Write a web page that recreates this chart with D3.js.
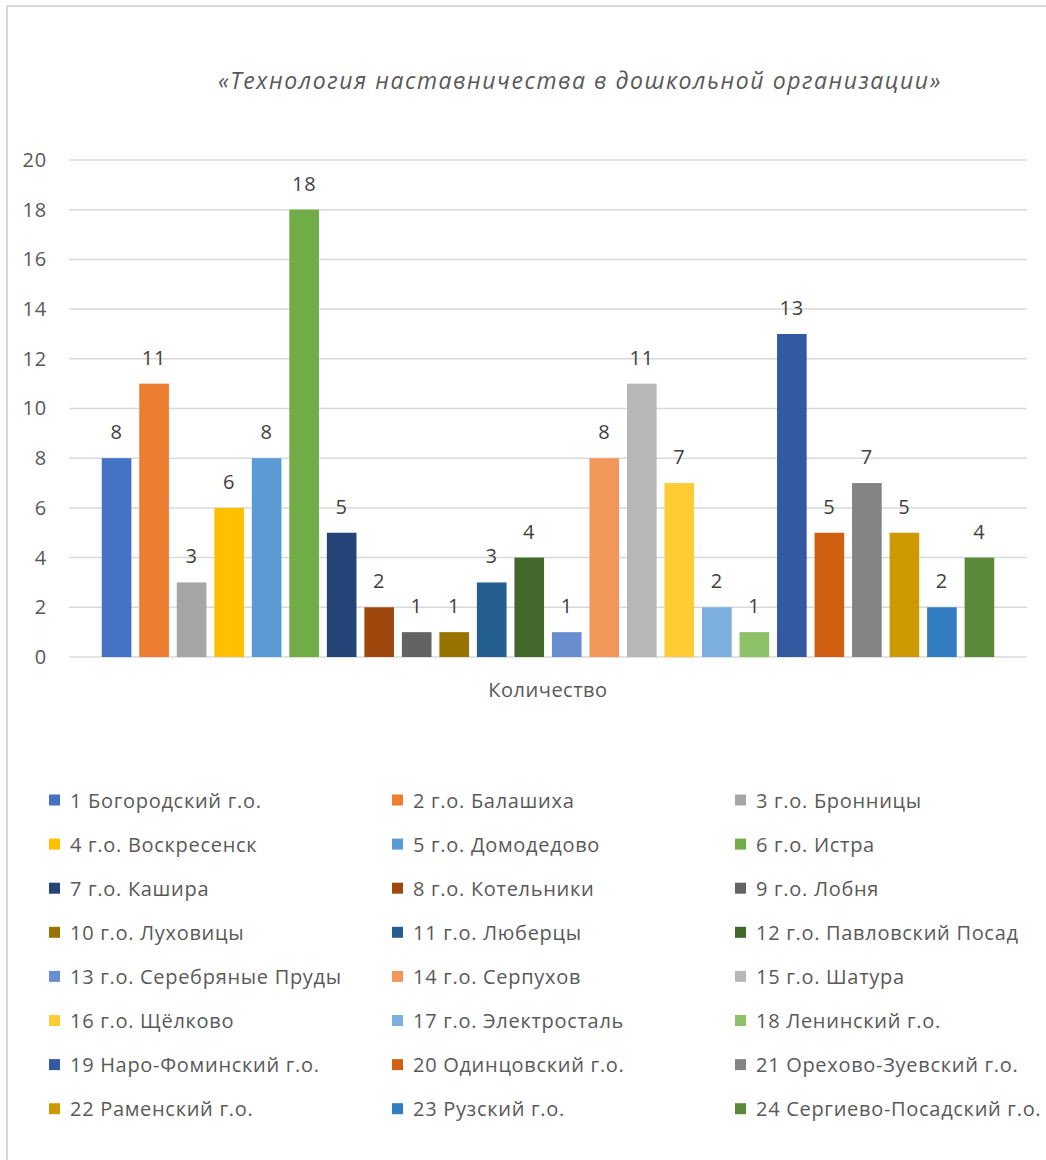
<!DOCTYPE html>
<html>
<head>
<meta charset="utf-8">
<script src="https://cdn.jsdelivr.net/npm/d3@7"></script>
<style>
  body { margin: 0; background: #fff; }
  svg { display: block; font-family: "Open Sans", "Noto Sans", sans-serif; }
</style>
</head>
<body>
<svg id="chart" width="1046" height="1160"></svg>
<script>
// data
const category = ["Количество"];
const names = [
  "1 Богородский г.о.", "2 г.о. Балашиха", "3 г.о. Бронницы",
  "4 г.о. Воскресенск", "5 г.о. Домодедово", "6 г.о. Истра",
  "7 г.о. Кашира", "8 г.о. Котельники", "9 г.о. Лобня",
  "10 г.о. Луховицы", "11 г.о. Люберцы", "12 г.о. Павловский Посад",
  "13 г.о. Серебряные Пруды", "14 г.о. Серпухов", "15 г.о. Шатура",
  "16 г.о. Щёлково", "17 г.о. Электросталь", "18 Ленинский г.о.",
  "19 Наро-Фоминский г.о.", "20 Одинцовский г.о.", "21 Орехово-Зуевский г.о.",
  "22 Раменский г.о.", "23 Рузский г.о.", "24 Сергиево-Посадский г.о."
];
const values = [8, 11, 3, 6, 8, 18, 5, 2, 1, 1, 3, 4, 1, 8, 11, 7, 2, 1, 13, 5, 7, 5, 2, 4];
const colors = [
  "#4472C4", "#ED7D31", "#A5A5A5", "#FFC000", "#5B9BD5", "#70AD47",
  "#264478", "#9E480E", "#636363", "#997300", "#255E91", "#43682B",
  "#698ED0", "#F1975A", "#B7B7B7", "#FFCD33", "#7CAFDD", "#8CC168",
  "#335AA1", "#D26012", "#848484", "#CC9A00", "#327DC2", "#5A8A39"
];
const yTicks = [0, 2, 4, 6, 8, 10, 12, 14, 16, 18, 20];
const title = "«Технология наставничества в дошкольной организации»";

const svg = d3.select("#chart");

// frame (only top and left edges show in the picture)
svg.append("path")
  .attr("d", "M7,1160 V6 H1046")
  .attr("fill", "none")
  .attr("stroke", "#d9d9d9")
  .attr("stroke-width", 2);

const plot = { left: 69, right: 1027, top: 160, bottom: 657 };

const y = d3.scaleLinear().domain([0, 20]).range([plot.bottom, plot.top]);

const x0 = d3.scaleBand()
  .domain(category)
  .range([plot.left, plot.right])
  .paddingOuter(0.032);

const x1 = d3.scaleBand()
  .domain(names)
  .range([x0(category[0]), x0(category[0]) + x0.bandwidth()])
  .paddingInner(0.21)
  .paddingOuter(0.105);

// title
svg.append("text")
  .attr("x", 580)
  .attr("y", 89)
  .attr("text-anchor", "middle")
  .attr("font-size", 23)
  .attr("font-style", "italic")
  .attr("letter-spacing", 1.55)
  .attr("fill", "#595959")
  .text(title);

// gridlines
svg.append("g")
  .selectAll("line")
  .data(yTicks)
  .join("line")
  .attr("x1", plot.left)
  .attr("x2", plot.right)
  .attr("y1", d => y(d))
  .attr("y2", d => y(d))
  .attr("stroke", "#d9d9d9")
  .attr("stroke-width", 1.5);

// y axis labels
const yAxis = svg.append("g")
  .attr("transform", "translate(" + (plot.left - 22) + ",0)")
  .call(d3.axisLeft(y).tickValues(yTicks).tickSize(0).tickPadding(0));
yAxis.select(".domain").remove();
yAxis.selectAll("text")
  .attr("font-family", "'Open Sans', 'Noto Sans', sans-serif")
  .attr("font-size", 20)
  .attr("letter-spacing", 0.8)
  .attr("fill", "#595959");

// bars
svg.append("g")
  .selectAll("rect")
  .data(values)
  .join("rect")
  .attr("x", (d, i) => x1(names[i]))
  .attr("y", d => y(d))
  .attr("width", x1.bandwidth())
  .attr("height", d => plot.bottom - y(d))
  .attr("fill", (d, i) => colors[i]);

// data labels
svg.append("g")
  .selectAll("text")
  .data(values)
  .join("text")
  .attr("x", (d, i) => x1(names[i]) + x1.bandwidth() / 2)
  .attr("y", d => y(d) - 19)
  .attr("text-anchor", "middle")
  .attr("font-size", 20)
  .attr("letter-spacing", 0.8)
  .attr("fill", "#404040")
  .text(d => d);

// category label
svg.append("text")
  .attr("x", x0(category[0]) + x0.bandwidth() / 2)
  .attr("y", 697)
  .attr("text-anchor", "middle")
  .attr("font-size", 20)
  .attr("letter-spacing", 0.5)
  .attr("fill", "#595959")
  .text(category[0]);

// legend
const legendCols = [49, 392, 735];
const legendTop = 800;
const legendStep = 44.1;

const legend = svg.append("g")
  .selectAll("g")
  .data(names)
  .join("g")
  .attr("transform", (d, i) => "translate(" + legendCols[i % 3] + "," + (legendTop + Math.floor(i / 3) * legendStep) + ")");

legend.append("rect")
  .attr("x", 0)
  .attr("y", -5.5)
  .attr("width", 11)
  .attr("height", 11)
  .attr("fill", (d, i) => colors[i]);

legend.append("text")
  .attr("x", 21)
  .attr("y", 7.5)
  .attr("font-size", 20)
  .attr("letter-spacing", 0.7)
  .attr("fill", "#595959")
  .text(d => d);
</script>
</body>
</html>
